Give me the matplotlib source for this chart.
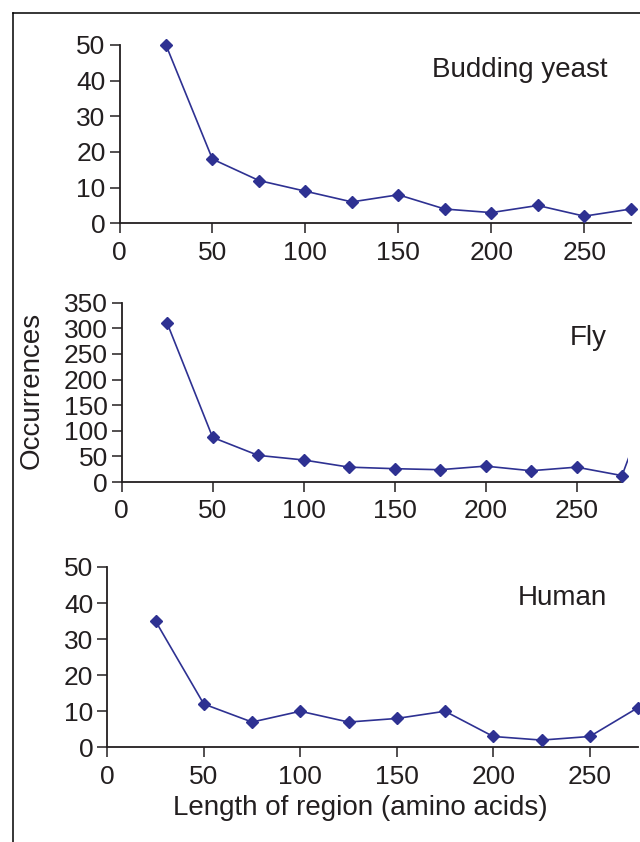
import matplotlib
matplotlib.use("Agg")
import matplotlib.pyplot as plt
from matplotlib.lines import Line2D
from matplotlib.transforms import Bbox, TransformedBbox

plt.rcParams['font.family'] = ['Liberation Sans', 'DejaVu Sans']

# ---- data ----
lengths = [25, 50, 75, 100, 125, 150, 175, 200, 225, 250, 275]
yeast = [50, 18, 12, 9, 6, 8, 4, 3, 5, 2, 4]
fly_lengths = [25, 50, 75, 100, 125, 150, 175, 200, 225, 250, 275, 300]
fly = [310, 87, 52, 43, 29, 26, 24, 31, 22, 29, 12.5, 250]
human = [35, 12, 7, 10, 7, 8, 10, 3, 2, 3, 11]

x_ticks = [0, 50, 100, 150, 200, 250]
yeast_yticks = [0, 10, 20, 30, 40, 50]
fly_yticks = [0, 50, 100, 150, 200, 250, 300, 350]
human_yticks = [0, 10, 20, 30, 40, 50]

labels = ["Budding yeast", "Fly", "Human"]
xlabel = "Length of region (amino acids)"
ylabel = "Occurrences"

# ---- style ----
W, H = 640, 842
DPI = 100
LINE_C = '#2e3192'
INK = '#231f20'
FS_TICK = 19
FS_LAB = 20

fig = plt.figure(figsize=(W / DPI, H / DPI), dpi=DPI)


def rect(left, right, top, bottom):
    return [left / W, 1 - bottom / H, (right - left) / W, (bottom - top) / H]


def style_axes(ax, ymax, yticks):
    ax.set_xlim(0, 275)
    ax.set_ylim(0, ymax)
    for s in ('top', 'right'):
        ax.spines[s].set_visible(False)
    for s in ('left', 'bottom'):
        ax.spines[s].set_linewidth(1.3)
        ax.spines[s].set_color(INK)
    ax.set_xticks(x_ticks)
    ax.set_yticks(yticks)
    ax.tick_params(axis='both', direction='out', length=7.5, width=1.1,
                   colors=INK, labelsize=FS_TICK)
    ax.tick_params(axis='x', pad=5)
    ax.tick_params(axis='y', pad=2.5)
    ax.patch.set_visible(False)


def plot_series(ax, xs, ys, clip_x=None):
    ln, = ax.plot(xs, ys, color=LINE_C, lw=1.2, marker='D', ms=6.5,
                  mfc=LINE_C, mec=LINE_C, clip_on=False, zorder=3)
    if clip_x is not None:
        ln.set_clip_on(True)
        ln.set_clip_box(TransformedBbox(Bbox([[-20, -50], [clip_x, 1000]]), ax.transData))


ax1 = fig.add_axes(rect(119.5, 630.7, 45, 223.3))
style_axes(ax1, 50, yeast_yticks)
plot_series(ax1, lengths, yeast)

ax2 = fig.add_axes(rect(121.7, 622, 302.7, 482))
style_axes(ax2, 350, fly_yticks)
plot_series(ax2, fly_lengths, fly, clip_x=278.5)

ax3 = fig.add_axes(rect(107.3, 638, 567, 747.3))
style_axes(ax3, 50, human_yticks)
plot_series(ax3, lengths, human)


def ftext(x, y, s, **kw):
    fig.text(x / W, 1 - y / H, s, color=INK, **kw)


ftext(607, 70, labels[0], fontsize=FS_LAB, ha='right', va='center')
ftext(607, 338, labels[1], fontsize=FS_LAB, ha='right', va='center')
ftext(607, 598, labels[2], fontsize=FS_LAB, ha='right', va='center')
ftext(32, 390, ylabel, fontsize=FS_LAB, ha='center', va='center', rotation=90)
ftext(360, 808, xlabel, fontsize=FS_LAB, ha='center', va='center')

# frame lines
fx, fy = 13.3 / W, 1 - 13.3 / H
fig.add_artist(Line2D([fx, 1], [fy, fy], color='black', lw=1.1, transform=fig.transFigure))
fig.add_artist(Line2D([fx, fx], [fy, 0], color='black', lw=1.1, transform=fig.transFigure))

fig.savefig('out.png', dpi=DPI)
